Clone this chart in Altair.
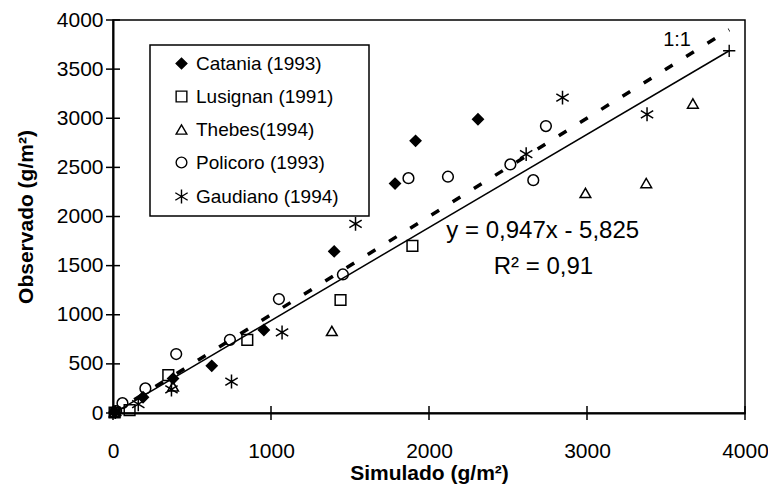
import altair as alt
import pandas as pd

FONT = "Liberation Sans, Arial, Helvetica, sans-serif"

series_names = ["Catania (1993)", "Lusignan (1991)", "Thebes(1994)", "Policoro (1993)", "Gaudiano (1994)"]
series_shapes = [
    "diamond",
    "square",
    "triangle-up",
    "circle",
    "M0,-1.3L0,1.3M-1.15,-0.7L1.15,0.7M-1.15,0.7L1.15,-0.7",
]
series_fills = ["black", "transparent", "transparent", "transparent", "transparent"]
series_strokes = ["black", "black", "black", "black", "black"]

catania_x = [10, 190, 380, 625, 955, 1400, 1785, 1915, 2310]
catania_y = [10, 160, 350, 480, 845, 1645, 2335, 2770, 2990]

lusignan_x = [10, 105, 350, 850, 1440, 1895]
lusignan_y = [5, 30, 385, 745, 1150, 1700]

thebes_x = [10, 380, 1385, 2990, 3375, 3670]
thebes_y = [10, 270, 835, 2240, 2340, 3150]

policoro_x = [20, 60, 205, 400, 740, 1050, 1455, 1870, 2120, 2515, 2660, 2740]
policoro_y = [20, 100, 250, 600, 745, 1160, 1410, 2390, 2405, 2530, 2370, 2920]

gaudiano_x = [15, 160, 370, 750, 1070, 1535, 2615, 2845, 3380]
gaudiano_y = [10, 90, 240, 320, 820, 1925, 2635, 3210, 3040]

trend_x = [0, 3900]
trend_y = [-5.8, 3687]
one_to_one_x = [0, 3900]
one_to_one_y = [0, 3900]

x_ticks = [0, 1000, 2000, 3000, 4000]
y_ticks = [0, 500, 1000, 1500, 2000, 2500, 3000, 3500, 4000]

eq_texts = ["y = 0,947x - 5,825", "R² = 0,91"]
eq_x = [2720, 2724]
eq_y = [1852, 1489]
one_text = ["1:1"]
one_text_x = [3570]
one_text_y = [3800]

rows = []
for name, xs, ys in zip(
    series_names,
    [catania_x, lusignan_x, thebes_x, policoro_x, gaudiano_x],
    [catania_y, lusignan_y, thebes_y, policoro_y, gaudiano_y],
):
    for a, b in zip(xs, ys):
        rows.append({"x": a, "y": b, "serie": name})
points_df = pd.DataFrame(rows)

xs_scale = alt.Scale(domain=[0, 4000], nice=False, zero=False)
ys_scale = alt.Scale(domain=[0, 4000], nice=False, zero=False)

x_axis = alt.Axis(
    values=x_ticks, format="d", title="Simulado (g/m²)", labelPadding=27,
    titleX=316, titleY=60, titleBaseline="middle", titleAlign="center", labelFlush=False)
y_axis = alt.Axis(
    values=y_ticks, format="d", title="Observado (g/m²)", labelPadding=10,
    titleX=-87, titleY=196.5, titleAngle=270, titleBaseline="middle", titleAlign="center")


def X():
    return alt.X("x:Q", scale=xs_scale, axis=x_axis)


def Y():
    return alt.Y("y:Q", scale=ys_scale, axis=y_axis)


legend = alt.Legend(
    title=None,
    orient="none",
    legendX=37,
    legendY=25,
    padding=9,
    strokeColor="black",
    fillColor="white",
    labelFont=FONT,
    labelFontSize=19,
    labelColor="black",
    labelLimit=240,
    symbolOffset=13,
    labelOffset=5,
    rowPadding=13,
    symbolSize=115,
    symbolStrokeColor="black",
    symbolStrokeWidth=1.4,
    labelExpr="datum.label + '\u00a0\u00a0\u00a0\u00a0\u200b'",
)

points = alt.Chart(points_df).mark_point(filled=False, strokeWidth=1.5, opacity=1, size=115).encode(
    x=X(),
    y=Y(),
    shape=alt.Shape("serie:N", scale=alt.Scale(domain=series_names, range=series_shapes), legend=legend),
    fill=alt.Fill("serie:N", scale=alt.Scale(domain=series_names, range=series_fills), legend=legend),
    stroke=alt.Stroke("serie:N", scale=alt.Scale(domain=series_names, range=series_strokes), legend=legend),
)

trend_df = pd.DataFrame({"x": trend_x, "y": trend_y})
trend = alt.Chart(trend_df).mark_line(color="black", strokeWidth=1.5).encode(x=X(), y=Y())
trend_end = alt.Chart(trend_df.tail(1)).mark_point(
    shape="M-1,0L1,0M0,-1L0,1", size=150, stroke="black", strokeWidth=1.4, filled=False, opacity=1
).encode(x=X(), y=Y())

one_df = pd.DataFrame({"x": one_to_one_x, "y": one_to_one_y})
one = alt.Chart(one_df).mark_line(color="black", strokeWidth=3.5, strokeDash=[9, 16]).encode(x=X(), y=Y())

xt_df = pd.DataFrame({"x": x_ticks, "y": [0] * len(x_ticks)})
xt = alt.Chart(xt_df).mark_tick(orient="vertical", size=14, thickness=1.5, color="black", opacity=1).encode(
    x=X(), y=Y()
)
yt_df = pd.DataFrame({"x": [0] * len(y_ticks), "y": y_ticks})
yt = alt.Chart(yt_df).mark_tick(orient="horizontal", size=14, thickness=1.5, color="black", opacity=1).encode(
    x=X(), y=Y()
)

eq_df = pd.DataFrame({"x": eq_x, "y": eq_y, "t": eq_texts})
eq = alt.Chart(eq_df).mark_text(font=FONT, fontSize=24, align="center", baseline="middle", color="black").encode(
    x=X(), y=Y(), text="t:N"
)
one_txt_df = pd.DataFrame({"x": one_text_x, "y": one_text_y, "t": one_text})
one_txt = alt.Chart(one_txt_df).mark_text(font=FONT, fontSize=20, align="center", baseline="middle", color="black").encode(
    x=X(), y=Y(), text="t:N"
)

chart = alt.layer(points, one, trend, trend_end, xt, yt, eq, one_txt).properties(
    width=632,
    height=393,
    padding={"left": 105, "top": 12, "right": 23, "bottom": 76},
    autosize=alt.AutoSizeParams(type="none"),
).configure_view(stroke="black", strokeWidth=1.5).configure_axis(
    grid=False,
    domainColor="black",
    domainWidth=2,
    ticks=False,
    labelFont=FONT,
    labelFontSize=21,
    labelColor="black",
    titleFont=FONT,
    titleFontSize=21,
    titleFontWeight="bold",
    titleColor="black",
).configure_legend(strokeWidth=1.5)

chart.save("out.html", embed_options={"renderer": "svg", "actions": False})
